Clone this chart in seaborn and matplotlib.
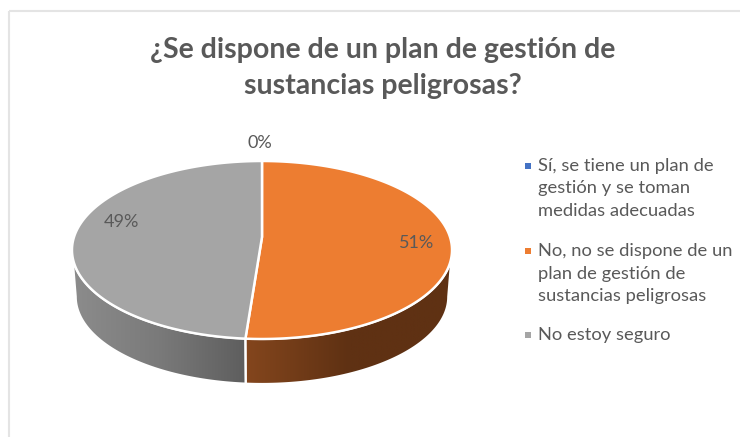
import numpy as np
import matplotlib
matplotlib.use('Agg')
import matplotlib.pyplot as plt
import seaborn as sns
from matplotlib.colors import LinearSegmentedColormap
from matplotlib.patches import Polygon, Rectangle

title = '¿Se dispone de un plan de gestión de\nsustancias peligrosas?'
categories = [
    'Sí, se tiene un plan de\ngestión y se toman\nmedidas adecuadas',
    'No, no se dispone de un\nplan de gestión de\nsustancias peligrosas',
    'No estoy seguro',
]
values = [0, 51.2, 48.8]
colors = ['#4472c4', '#ed7d31', '#a5a5a5']
# side wall shading, left to right
wall_colors = [None, ['#84461d', '#5f3113', '#5f3113'], ['#8c8c8c', '#7a7a7a', '#5e5e5e']]

# pie geometry in pixels, tilted with a bit of perspective
CX, CY = 262, 237
A, H, K = 188, 87.1, 0.146
DEPTH = 47
TEXT = '#595959'


def project(theta, scale=1.0, drop=0):
    t = np.radians(theta)
    x, y = np.cos(t), np.sin(t)
    w = 1 + K * y
    return np.column_stack([CX + scale * A * x / w, CY + drop - scale * H * y / w])


sns.set_theme(style='white')
plt.rcParams['font.family'] = ['Lato', 'DejaVu Sans']

fig = plt.figure(figsize=(7.4, 4.37), dpi=100)
ax = fig.add_axes([0, 0, 1, 1])

wedges, _ = ax.pie(values, colors=colors, startangle=90, counterclock=False)
ax.set_aspect('auto')
ax.set_xlim(0, 740)
ax.set_ylim(437, 0)
ax.axis('off')

# thin frame of the chart area, runs off the picture right and bottom
ax.add_patch(Rectangle((9, 11), 800, 500, fill=False, ec='#e4e4e4', lw=1.5))

limit = np.degrees(np.arcsin(K))
for w, shades in zip(wedges, wall_colors):
    w.remove()
    if w.theta2 - w.theta1 < 0.01:
        continue
    # side wall first
    t0 = max(w.theta1, -180 + limit)
    t1 = min(w.theta2, -limit)
    th = np.linspace(t0, t1, 120)
    upper = project(th)
    lower = project(th[::-1], 0.98, DEPTH)
    pts = np.vstack([upper, lower])
    wall = Polygon(pts, closed=True, fc='none', ec='white', lw=1.5, zorder=3)
    ax.add_patch(wall)
    cmap = LinearSegmentedColormap.from_list('wall', shades)
    im = ax.imshow(np.linspace(0, 1, 256).reshape(1, -1), cmap=cmap, aspect='auto',
                   extent=(pts[:, 0].min(), pts[:, 0].max(), pts[:, 1].max(), pts[:, 1].min()),
                   zorder=2)
    im.set_clip_path(wall)

    # top face
    th = np.linspace(w.theta1, w.theta2, 240)
    top = np.vstack([project(th), [[CX, CY]]])
    ax.add_patch(Polygon(top, closed=True, fc=w.get_facecolor(), ec='white', lw=1.8, zorder=4))

ax.set_xlim(0, 740)
ax.set_ylim(437, 0)

ax.text(383, 68, title, ha='center', va='center', fontsize=20.5, fontweight='bold',
        color=TEXT, linespacing=1.45)

label_pos = [(260, 143), (417, 243), (121, 222)]
for v, (x, y) in zip(values, label_pos):
    ax.text(x, y, f'{v:.0f}%', ha='center', va='center', fontsize=13, color=TEXT, zorder=5)

legend_y = [166, 251, 335]
for cat, col, y in zip(categories, colors, legend_y):
    ax.scatter([528], [y], marker='s', s=22, color=col, linewidths=0)
    ax.text(538, y - 8, cat, ha='left', va='top', fontsize=13.2, color=TEXT, linespacing=1.5)

fig.savefig('out.png', dpi=100)
